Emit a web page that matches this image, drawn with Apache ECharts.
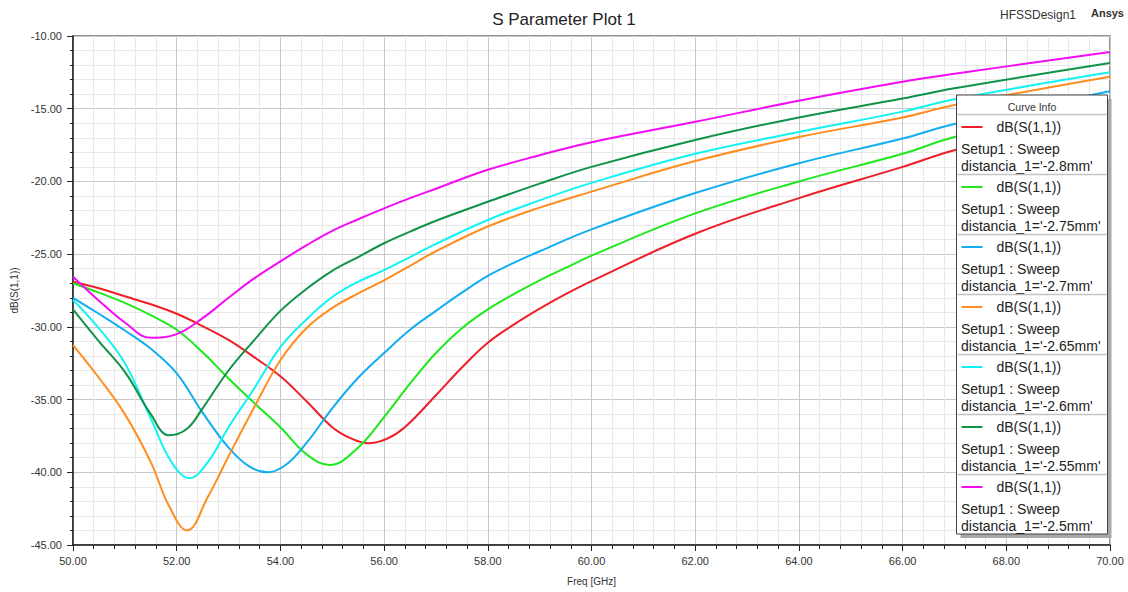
<!DOCTYPE html>
<html>
<head>
<meta charset="utf-8">
<title>S Parameter Plot 1</title>
<script src="https://cdn.jsdelivr.net/npm/echarts@6/dist/echarts.min.js"></script>
<style>
  html, body { margin: 0; padding: 0; background: #fff; }
  #main { width: 1128px; height: 592px; }
</style>
</head>
<body>
<div id="main"></div>
<script>
// curve data: [freq GHz, dB(S(1,1))]
var s28 = [[50,-26.9],[50.5,-27.35],[51,-27.9],[51.5,-28.45],[52,-29.1],[52.5,-29.95],[53,-30.9],
  [53.5,-32.1],[54,-33.4],[54.5,-35.1],[55,-36.9],[55.35,-37.65],[55.7,-38.0],[56.05,-37.7],[56.4,-36.9],
  [57,-34.7],[57.5,-32.8],[58,-31.1],[58.5,-29.85],[59,-28.75],[59.5,-27.75],[60,-26.85],
  [62,-23.6],[64,-21.15],[66,-19.0],[67,-17.85],[70,-15.3]];
var s275 = [[50,-27.0],[50.5,-27.65],[51,-28.35],[51.5,-29.2],[52,-30.2],[52.5,-31.75],[53,-33.55],
  [53.5,-35.25],[54,-36.9],[54.5,-38.75],[54.95,-39.5],[55.5,-38.3],[56,-36.2],[56.5,-33.9],[57,-31.8],
  [57.5,-30.1],[58,-28.8],[58.5,-27.75],[59,-26.8],[59.5,-25.95],[60,-25.1],
  [62,-22.2],[64,-20.0],[66,-18.1],[67,-16.95],[70,-14.5]];
var s27 = [[50,-28.0],[50.5,-29.1],[51,-30.25],[51.5,-31.5],[52,-33.2],[52.5,-35.9],[53,-38.3],
  [53.4,-39.6],[53.75,-40.0],[54.1,-39.5],[54.5,-38.0],[55,-35.6],[55.5,-33.5],[56,-31.8],[56.5,-30.2],
  [57,-28.9],[57.5,-27.65],[58,-26.5],[58.5,-25.6],[59,-24.8],[60,-23.3],
  [62,-20.8],[64,-18.75],[66,-17.05],[67,-16.05],[70,-13.8]];
var s265 = [[50,-31.25],[50.5,-33.5],[51,-36.0],[51.5,-39.3],[51.85,-42.3],[52.2,-44.0],[52.6,-41.7],
  [53,-38.9],[53.5,-35.5],[54,-32.3],[54.5,-30.1],[55,-28.7],[55.5,-27.7],[56,-26.8],[56.5,-25.8],
  [57,-24.8],[58,-23.1],[59,-21.8],[60,-20.7],[62,-18.6],[64,-16.95],[66,-15.6],[67,-14.75],[70,-12.8]];
var s26 = [[50,-28.15],[50.5,-30.1],[51,-32.5],[51.5,-36.3],[51.9,-39.3],[52.25,-40.4],[52.6,-39.3],
  [53,-36.9],[53.5,-34.2],[54,-31.4],[54.5,-29.5],[55,-27.95],[55.5,-26.9],[56,-26.1],[56.5,-25.2],
  [57,-24.3],[58,-22.65],[59,-21.3],[60,-20.1],[62,-18.1],[64,-16.6],[66,-15.2],[67,-14.35],[70,-12.5]];
var s255 = [[50,-28.8],[50.5,-31.0],[51,-33.1],[51.5,-36.0],[51.85,-37.45],[52.2,-37.0],[52.5,-35.6],
  [53,-33.0],[53.5,-30.9],[54,-28.9],[54.5,-27.4],[55,-26.15],[55.5,-25.2],[56,-24.25],[56.5,-23.45],
  [57,-22.7],[58,-21.4],[59,-20.15],[60,-19.0],[62,-17.15],[64,-15.6],[66,-14.3],[67,-13.6],[70,-11.86]];
var s25 = [[50,-26.55],[50.5,-28.2],[51,-29.7],[51.5,-30.75],[52,-30.5],[52.5,-29.4],[53,-28.0],
  [53.5,-26.65],[54,-25.5],[54.5,-24.4],[55,-23.4],[55.5,-22.6],[56,-21.85],[56.5,-21.15],[57,-20.5],
  [58,-19.2],[59,-18.2],[60,-17.3],[62,-15.9],[64,-14.45],[66,-13.15],[67,-12.6],[70,-11.1]];

var sweepNames = ["-2.8mm", "-2.75mm", "-2.7mm", "-2.65mm", "-2.6mm", "-2.55mm", "-2.5mm"];
var curves = [s28, s275, s27, s265, s26, s255, s25];
var colors = ['#ee1f26', '#1fe81c', '#13aef0', '#ff8d1f', '#14f2f2', '#0f9349', '#f50cf5'];

var font = "'Liberation Sans', Arial, sans-serif";
var myChart = echarts.init(document.getElementById('main'), null, { renderer: 'svg' });

var series = curves.map(function (d, i) {
  return {
    name: "distancia_1='" + sweepNames[i] + "'",
    type: 'line',
    smooth: 0.4,
    symbol: 'none',
    lineStyle: { color: colors[i], width: 2 },
    data: d
  };
});

// "Curve Info" box, built from the sweep names
var legendX = 956.5, legendY = 95, itemH = 60;
var graphics = [
  { type: 'rect', shape: { x: legendX + 4, y: legendY + 4, width: 151, height: 439 },
    style: { fill: '#a8a8a8' }, z: 100 },
  { type: 'rect', shape: { x: legendX, y: legendY, width: 151, height: 439 },
    style: { fill: '#fff', stroke: '#444', lineWidth: 1 }, z: 101 },
  { type: 'text', x: legendX + 75.5, y: legendY + 12, z: 102,
    style: { text: 'Curve Info', fill: '#333', font: '10.5px ' + font, align: 'center', verticalAlign: 'middle' } }
];
sweepNames.forEach(function (n, i) {
  var top = legendY + 19.5 + i * itemH;
  graphics.push({ type: 'line', z: 102,
    shape: { x1: legendX + 1, y1: top, x2: legendX + 150, y2: top },
    style: { stroke: '#c4c4c4', lineWidth: 1.5 } });
  graphics.push({ type: 'line', z: 102,
    shape: { x1: legendX + 5, y1: top + 12.5, x2: legendX + 26, y2: top + 12.5 },
    style: { stroke: colors[i], lineWidth: 2 } });
  graphics.push({ type: 'text', x: legendX + 40, y: top + 12.5, z: 102,
    style: { text: 'dB(S(1,1))', fill: '#222', font: '14px ' + font, verticalAlign: 'middle' } });
  graphics.push({ type: 'text', x: legendX + 4.5, y: top + 34, z: 102,
    style: { text: 'Setup1 : Sweep', fill: '#222', font: '14px ' + font, verticalAlign: 'middle' } });
  graphics.push({ type: 'text', x: legendX + 4.5, y: top + 51.5, z: 102,
    style: { text: "distancia_1='" + n + "'", fill: '#222', font: '14px ' + font, verticalAlign: 'middle' } });
});
graphics.push({ type: 'text', x: 1076, y: 15, z: 102,
  style: { text: 'HFSSDesign1', fill: '#333', font: '12px ' + font, align: 'right', verticalAlign: 'middle' } });
graphics.push({ type: 'text', x: 1124, y: 13, z: 102,
  style: { text: 'Ansys', fill: '#333', font: 'bold 11px ' + font, align: 'right', verticalAlign: 'middle' } });

var option = {
  animation: false,
  backgroundColor: '#fff',
  textStyle: { fontFamily: font },
  title: {
    text: 'S Parameter Plot 1',
    left: 'center',
    top: 6,
    textStyle: { fontSize: 17, fontWeight: 'normal', color: '#222', fontFamily: font }
  },
  grid: {
    left: 73, right: 18, top: 36, bottom: 47,
    show: true, borderColor: '#6e6e6e', borderWidth: 1.5, backgroundColor: 'transparent'
  },
  xAxis: {
    type: 'value', min: 50, max: 70, interval: 2,
    name: 'Freq [GHz]', nameLocation: 'middle', nameGap: 31,
    nameTextStyle: { fontSize: 10, color: '#333' },
    axisLine: { lineStyle: { color: '#222', width: 1.5 } },
    axisTick: { length: 6, lineStyle: { color: '#222' } },
    minorTick: { show: true, splitNumber: 5, length: 4, lineStyle: { color: '#222' } },
    axisLabel: { fontSize: 11, color: '#333', margin: 10, formatter: function (v) { return v.toFixed(2); } },
    splitLine: { lineStyle: { color: '#c8c8c8', width: 1 } },
    minorSplitLine: { show: true, lineStyle: { color: '#e8e8e8', width: 1 } }
  },
  yAxis: {
    type: 'value', min: -45, max: -10, interval: 5,
    name: 'dB(S(1,1))', nameLocation: 'middle', nameGap: 46,
    nameTextStyle: { fontSize: 10, color: '#333' },
    axisLine: { lineStyle: { color: '#222', width: 1.5 } },
    axisTick: { length: 6, lineStyle: { color: '#222' } },
    minorTick: { show: true, splitNumber: 5, length: 3, lineStyle: { color: '#222' } },
    axisLabel: { fontSize: 11, color: '#333', margin: 11, formatter: function (v) { return v.toFixed(2); } },
    splitLine: { lineStyle: { color: '#c8c8c8', width: 1 } },
    minorSplitLine: { show: true, lineStyle: { color: '#e8e8e8', width: 1 } }
  },
  graphic: graphics,
  series: series
};

myChart.setOption(option);
</script>
</body>
</html>
